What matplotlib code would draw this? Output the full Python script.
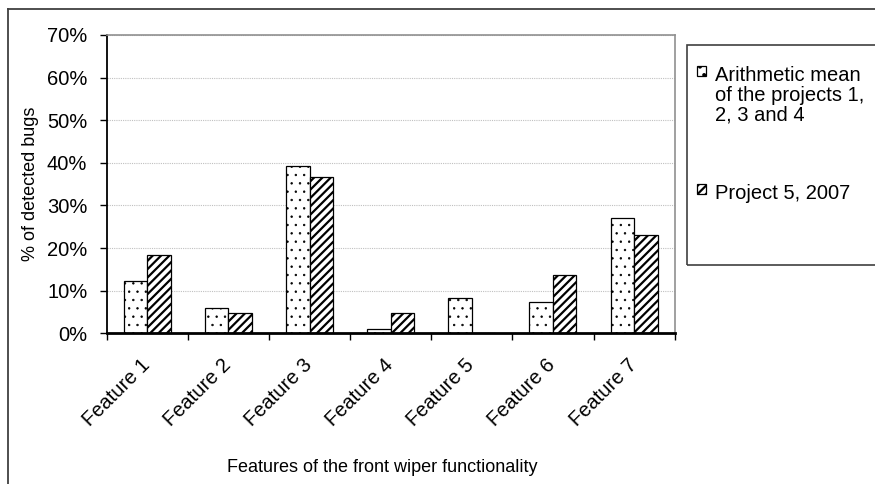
import matplotlib
matplotlib.use("Agg")
import matplotlib.pyplot as plt
import numpy as np
from matplotlib.lines import Line2D
from matplotlib.patches import Rectangle
from matplotlib.transforms import ScaledTranslation

plt.rcParams["font.family"] = ["Liberation Sans", "DejaVu Sans"]

# データ
features = ["Feature 1", "Feature 2", "Feature 3", "Feature 4",
            "Feature 5", "Feature 6", "Feature 7"]
mean_1to4 = [12.3, 6.0, 39.3, 1.1, 8.3, 7.3, 27.1]
project_5 = [18.3, 4.7, 36.6, 4.7, 0.0, 13.8, 23.0]
label_mean = "Arithmetic mean\nof the projects 1,\n2, 3 and 4"
label_p5 = "Project 5, 2007"

fig = plt.figure(figsize=(8.75, 4.84), dpi=100)
ax = fig.add_axes([0.122, 0.311, 0.649, 0.617])

x = np.arange(len(features))
w = 0.29
plt.rcParams["hatch.linewidth"] = 0.5
b1 = ax.bar(x - w / 2, mean_1to4, w, color="white", edgecolor="black",
            hatch="..", linewidth=0.9, label=label_mean)
plt.rcParams["hatch.linewidth"] = 1.6
b2 = ax.bar(x + w / 2, project_5, w, color="white", edgecolor="black",
            hatch="////", linewidth=0.9, label=label_p5)
for p in b1:
    if hasattr(p, "set_hatch_linewidth"):
        p.set_hatch_linewidth(0.5)
for p in b2:
    if hasattr(p, "set_hatch_linewidth"):
        p.set_hatch_linewidth(1.6)

ax.set_xlim(-0.5, len(features) - 0.5)
ax.set_ylim(0, 70)
ax.set_yticks(range(0, 71, 10))
ax.set_yticklabels([f"{v}%" for v in range(0, 71, 10)], fontsize=14.5)
ax.yaxis.grid(True, linestyle=(0, (1, 1)), color="#c0c0c0", linewidth=0.8)
ax.set_axisbelow(True)

ax.set_xticks(x)
ax.set_xticklabels(features, rotation=45, ha="right", rotation_mode="anchor", fontsize=14.5)
ax.tick_params(axis="x", which="major", length=0, pad=11)
shift = ScaledTranslation(-0.07, -0.07, fig.dpi_scale_trans)
for lbl in ax.get_xticklabels():
    lbl.set_transform(lbl.get_transform() + shift)
ax.set_xticks(np.arange(-0.5, len(features), 1), minor=True)
ax.tick_params(axis="x", which="minor", length=5, width=1, color="black")
ax.tick_params(axis="y", length=5, width=1, pad=9)

for s in ["top", "right"]:
    ax.spines[s].set_color("#909090")
    ax.spines[s].set_linewidth(1.2)
ax.spines["left"].set_linewidth(1.3)
ax.spines["bottom"].set_linewidth(2)

ax.set_ylabel("% of detected bugs", fontsize=13)
ax.yaxis.set_label_coords(-0.12, 0.5)
fig.text(0.437, 0.035, "Features of the front wiper functionality",
         fontsize=13, ha="center", va="center")

# 凡例
fig.add_artist(Rectangle((687 / 875, 1 - 265 / 484), 0.3, 220 / 484,
                         transform=fig.transFigure, fill=False,
                         edgecolor="#404040", linewidth=1.2))
leg = fig.legend(handles=[b1, b2], loc="upper left",
                 bbox_to_anchor=(697 / 875, 1 - 66 / 484),
                 frameon=False, fontsize=14.5, handlelength=0.45, handleheight=0.4,
                 handletextpad=0.45, labelspacing=2.95, borderpad=0, borderaxespad=0)
for t in leg.get_texts():
    t.set_linespacing(1.05)
for col in leg._legend_handle_box.get_children():
    for row in col.get_children():
        row.align = "top"

# 外枠
fig.add_artist(Line2D([8 / 875, 8 / 875], [0, 1 - 9 / 484], transform=fig.transFigure,
                      color="#404040", linewidth=1.3))
fig.add_artist(Line2D([8 / 875, 1], [1 - 9 / 484, 1 - 9 / 484], transform=fig.transFigure,
                      color="#404040", linewidth=1.3))

plt.savefig("out.png", dpi=100)
